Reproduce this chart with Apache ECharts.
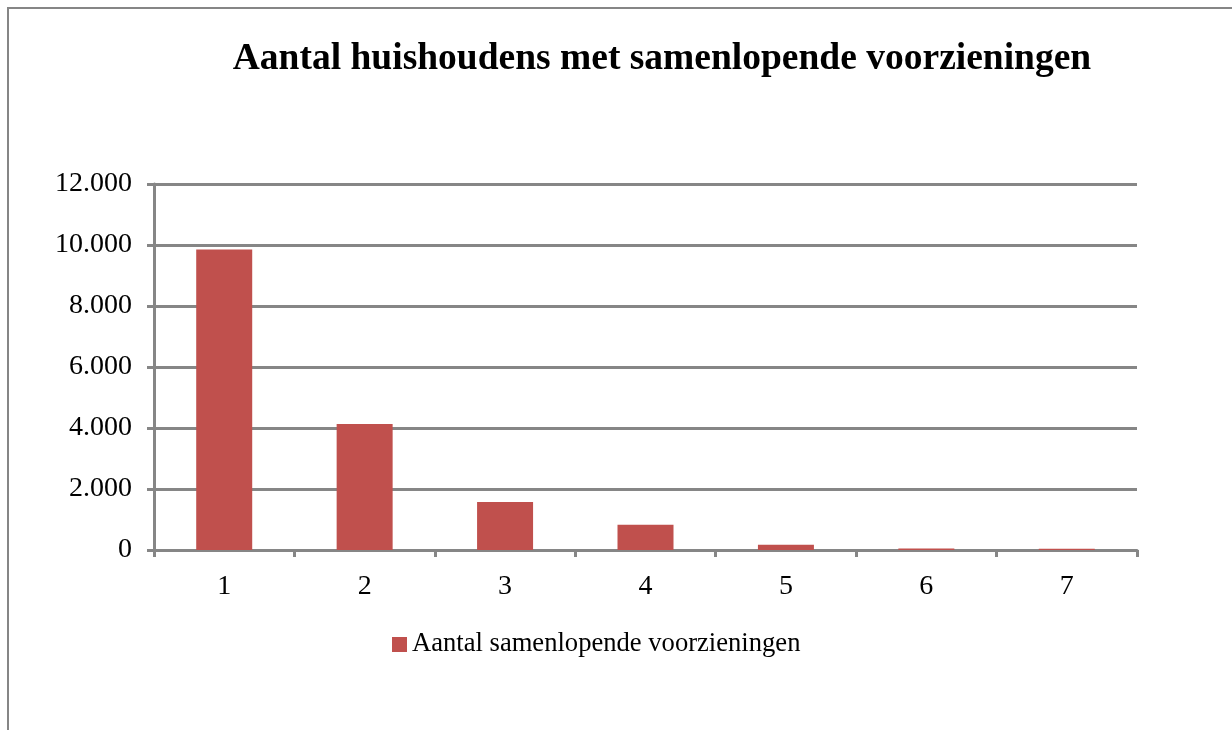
<!DOCTYPE html>
<html>
<head>
<meta charset="utf-8">
<title>Aantal huishoudens met samenlopende voorzieningen</title>
<script src="https://cdn.jsdelivr.net/npm/echarts@6/dist/echarts.min.js"></script>
<style>
html, body { margin: 0; padding: 0; background: #fff; }
#main { width: 1232px; height: 730px; }
</style>
</head>
<body>
<div id="main"></div>
<script>
// categorieën en waarden
var categories = ['1', '2', '3', '4', '5', '6', '7'];
var waarden = [9850, 4130, 1575, 830, 175, 50, 45];
var serieNaam = 'Aantal samenlopende voorzieningen';
var titel = 'Aantal huishoudens met samenlopende voorzieningen';

var grijs = '#868686';
var font = '"Liberation Serif", "Times New Roman", serif';

function puntNotatie(v) {
    // 12000 -> 12.000
    return String(v).replace(/\B(?=(\d{3})+(?!\d))/g, '.');
}

var myChart = echarts.init(document.getElementById('main'));
var option = {
    animation: false,
    backgroundColor: '#fff',
    graphic: [{
        type: 'rect',
        shape: { x: 8, y: 8, width: 1400, height: 900 },
        style: { fill: 'none', stroke: grijs, lineWidth: 2 }
    }],
    title: {
        text: titel,
        left: 657,
        textAlign: 'center',
        top: 35,
        textStyle: { fontFamily: font, fontWeight: 'bold', fontSize: 37.5, color: '#000' }
    },
    legend: {
        data: [serieNaam],
        top: 626,
        left: 387,
        icon: 'rect',
        itemWidth: 15,
        itemHeight: 15,
        itemGap: 6,
        textStyle: { fontFamily: font, fontSize: 26.6, color: '#000' }
    },
    grid: { left: 154, right: 95, top: 184, bottom: 180 },
    xAxis: {
        type: 'category',
        data: categories,
        axisLine: { lineStyle: { color: grijs, width: 3 } },
        axisTick: { show: true, length: 7, lineStyle: { color: grijs, width: 3 } },
        axisLabel: { fontFamily: font, fontSize: 28, color: '#000', margin: 23 }
    },
    yAxis: {
        type: 'value',
        min: 0,
        max: 12000,
        interval: 2000,
        axisLine: { show: true, lineStyle: { color: grijs, width: 3 } },
        axisTick: { show: true, length: 7, lineStyle: { color: grijs, width: 3 } },
        splitLine: { lineStyle: { color: grijs, width: 3 } },
        axisLabel: {
            fontFamily: font, fontSize: 28, color: '#000', margin: 22,
            padding: [4, 0, 0, 0],
            formatter: puntNotatie
        }
    },
    series: [{
        name: serieNaam,
        type: 'bar',
        data: waarden,
        barWidth: 56,
        itemStyle: { color: '#C0504D' }
    }]
};
myChart.setOption(option);
</script>
</body>
</html>
